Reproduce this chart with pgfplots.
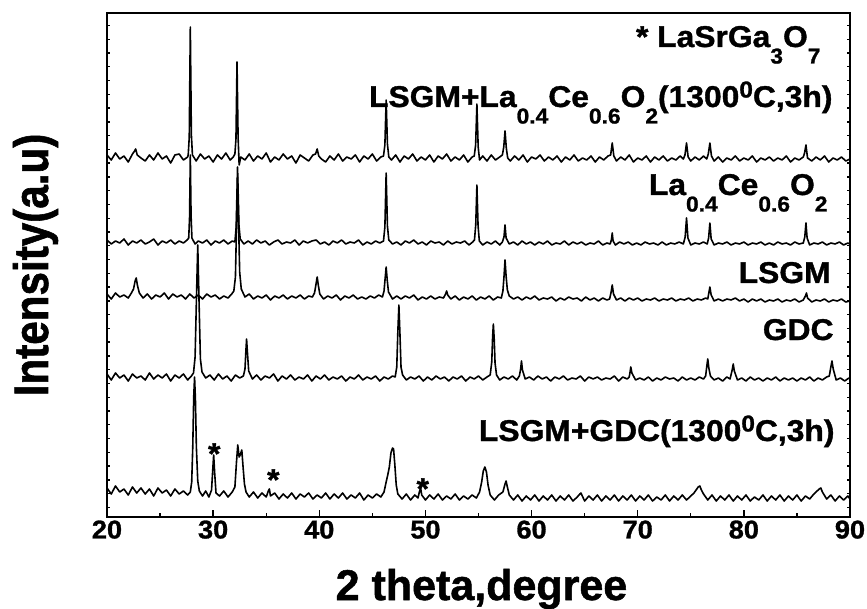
\documentclass[border=0pt]{standalone}
\usepackage{fontspec}
\setmainfont{Liberation Sans}[BoldFeatures={FakeBold=1.2}]
\newfontfamily\lbl{Liberation Sans}[FakeStretch=1.06, BoldFeatures={FakeBold=1.2}]
\newfontfamily\ylb{Liberation Sans}[FakeStretch=0.87, BoldFeatures={FakeBold=1.2}]
\usepackage{pgfplots}
\pgfplotsset{compat=1.18}

% chemical subscripts and the degree superscript of the annotations
\newcommand\sbs[1]{\raisebox{-16.5pt}{\fontsize{21.5}{22}\selectfont #1}}
\newcommand\sps[1]{\raisebox{9.5pt}{\fontsize{23}{23}\selectfont #1}}
\newcommand\lblfont{\lbl\bfseries\fontsize{30}{36}\selectfont}
\pgfplotsset{xrd/.style={black, line width=1.6pt, line join=round, mark=none}}

\begin{document}
\begin{tikzpicture}[x=1pt,y=1pt]
\useasboundingbox (-107,-91) rectangle (760,517);
\begin{axis}[
  at={(0,0)}, anchor=south west,
  scale only axis, width=743pt, height=504pt,
  xmin=20, xmax=90, ymin=0, ymax=504,
  clip=false,
  axis line style={line width=1.6pt},
  xtick={20,30,...,90}, minor xtick={25,35,...,85},
  ytick=\empty,
  extra y ticks={9.6,23.37,...,500}, extra y tick labels={},
  extra y tick style={major tick length=3.5pt},
  xtick pos=bottom, ytick pos=both,
  tick align=inside,
  major tick length=7pt, minor tick length=4.5pt,
  every tick/.style={black, line width=1.4pt},
  /pgf/number format/assume math mode=true,
  xticklabel style={font=\lbl\bfseries\fontsize{25.6}{30}\selectfont},
  xlabel={2 theta,degree},
  xlabel style={font=\bfseries\fontsize{43}{50}\selectfont,
    at={([xshift=3pt,yshift=-83pt]axis description cs:0.5,0)}, anchor=base},
  ylabel={Intensity(a.u)},
  ylabel style={font=\ylb\bfseries\fontsize{48.5}{55}\selectfont,
    at={([xshift=-59pt]axis description cs:0,0.5)}, anchor=base},
]

% LSGM + La0.4Ce0.6O2, 1300 C, 3 h
\addplot[xrd] coordinates {
(20.0,362)(20.4,357)(20.8,364)(21.2,358)(21.6,361)(22.0,355)(22.4,363)(22.6,366)(22.7,368)(22.85,362)
(23.2,359)(23.6,356)(24.0,362)(24.4,357)(24.8,364)(25.2,358)(25.6,361)(26.0,354)(26.4,362)(26.8,363)
(27.2,357)(27.6,360)(27.65,362)(27.75,380)(27.85,490)(27.95,382)(28.05,362)(28.4,356)(28.8,363)(29.2,358)
(29.6,361)(30.0,355)(30.4,362)(30.8,358)(31.2,364)(31.6,357)(31.9,360)(32.05,363)(32.15,378)(32.25,455)
(32.35,380)(32.45,352)(32.6,360)(33.0,357)(33.4,363)(33.8,356)(34.2,361)(34.6,358)(35.0,364)(35.4,355)
(35.8,360)(36.2,357)(36.6,363)(37.0,358)(37.4,361)(37.8,354)(38.2,362)(38.6,359)(39.0,356)(39.4,362)
(39.65,363)(39.8,368)(39.95,361)(40.2,358)(40.6,355)(41.0,361)(41.4,357)(41.8,363)(42.2,356)(42.6,360)
(43.0,358)(43.4,362)(43.8,355)(44.2,361)(44.6,358)(45.0,363)(45.4,356)(45.8,360)(46.05,361)(46.18,372)
(46.3,417)(46.42,373)(46.55,360)(46.8,357)(47.2,362)(47.6,355)(48.0,361)(48.4,358)(48.8,363)(49.2,356)
(49.6,360)(50.0,357)(50.4,362)(50.8,355)(51.2,361)(51.6,358)(52.0,363)(52.4,356)(52.8,360)(53.2,357)
(53.6,362)(54.0,355)(54.4,360)(54.6,361)(54.73,372)(54.85,413)(54.97,370)(55.1,357)(55.4,361)(55.8,356)
(56.2,362)(56.6,357)(57.0,360)(57.25,362)(57.38,370)(57.5,386)(57.62,369)(57.75,359)(58.0,356)(58.4,361)
(58.8,357)(59.2,362)(59.6,355)(60.0,360)(60.4,358)(60.8,362)(61.2,356)(61.6,360)(62.0,357)(62.4,361)
(62.8,355)(63.2,360)(63.6,357)(64.0,362)(64.4,356)(64.8,359)(65.2,357)(65.6,361)(66.0,355)(66.4,360)
(66.8,357)(67.2,361)(67.45,362)(67.6,374)(67.75,361)(68.0,356)(68.4,360)(68.8,357)(69.2,362)(69.6,355)
(70.0,359)(70.4,357)(70.8,361)(71.2,355)(71.6,360)(72.0,357)(72.4,361)(72.8,356)(73.2,359)(73.6,357)
(74.0,361)(74.3,358)(74.45,362)(74.6,374)(74.75,360)(75.0,356)(75.4,360)(75.8,357)(76.2,361)(76.5,358)
(76.65,363)(76.8,374)(76.95,361)(77.2,356)(77.6,360)(78.0,355)(78.4,359)(78.8,357)(79.2,361)(79.6,356)
(80.0,359)(80.4,357)(80.8,361)(81.2,355)(81.6,359)(82.0,357)(82.4,360)(82.8,356)(83.2,359)(83.6,357)
(84.0,361)(84.4,355)(84.8,359)(85.2,357)(85.6,360)(85.72,364)(85.85,372)(86.0,359)(86.4,356)(86.8,360)
(87.2,357)(87.6,361)(88.0,355)(88.4,359)(88.8,357)(89.2,360)(89.6,356)(90.0,358)
};

% La0.4Ce0.6O2
\addplot[xrd] coordinates {
(20.0,277)(20.4,273)(20.8,276)(21.2,274)(21.6,278)(22.0,272)(22.4,276)(22.8,274)(23.2,277)(23.6,273)
(24.0,275)(24.4,278)(24.8,272)(25.2,276)(25.6,274)(26.0,277)(26.4,273)(26.8,276)(27.2,274)(27.55,277)
(27.7,279)(27.78,300)(27.85,362)(27.92,302)(28.0,279)(28.3,273)(28.6,276)(29.0,274)(29.4,277)(29.8,272)
(30.2,276)(30.6,274)(31.0,277)(31.4,273)(31.8,276)(32.05,275)(32.17,290)(32.3,350)(32.43,292)(32.55,278)
(32.9,273)(33.3,276)(33.7,273)(34.1,277)(34.5,274)(34.9,276)(35.3,272)(35.7,275)(36.1,277)(36.5,273)
(36.9,275)(37.3,274)(37.7,277)(38.1,272)(38.5,276)(38.9,274)(39.3,276)(39.7,277)(40.1,273)(40.5,275)
(40.9,272)(41.3,276)(41.7,274)(42.1,277)(42.5,273)(42.9,275)(43.3,274)(43.7,277)(44.1,272)(44.5,275)
(44.9,273)(45.3,276)(45.7,274)(46.05,276)(46.18,290)(46.3,344)(46.42,291)(46.55,277)(46.9,273)(47.3,275)
(47.7,272)(48.1,276)(48.5,274)(48.9,277)(49.3,273)(49.7,275)(50.1,272)(50.5,276)(50.9,274)(51.3,275)
(51.7,272)(52.1,276)(52.5,273)(52.9,275)(53.3,274)(53.7,276)(54.1,272)(54.45,275)(54.62,277)(54.74,292)
(54.85,332)(54.96,291)(55.08,276)(55.4,272)(55.8,275)(56.2,273)(56.6,276)(57.0,272)(57.25,275)(57.4,280)
(57.5,292)(57.6,279)(57.9,273)(58.3,275)(58.7,272)(59.1,276)(59.5,273)(59.9,275)(60.3,272)(60.7,275)
(61.1,273)(61.5,276)(61.9,272)(62.3,274)(62.7,273)(63.1,276)(63.5,272)(63.9,275)(64.3,273)(64.7,275)
(65.1,272)(65.5,274)(65.9,273)(66.3,276)(66.7,272)(67.1,274)(67.4,273)(67.52,277)(67.6,284)(67.68,276)
(67.9,272)(68.3,275)(68.7,273)(69.1,275)(69.5,272)(69.9,274)(70.3,272)(70.7,275)(71.1,273)(71.5,274)
(71.9,272)(72.3,275)(72.7,272)(73.1,274)(73.5,273)(73.9,275)(74.3,273)(74.47,280)(74.6,299)(74.73,279)
(75.0,272)(75.4,274)(75.8,273)(76.2,275)(76.55,273)(76.68,279)(76.8,294)(76.92,278)(77.2,272)(77.6,274)
(78.0,273)(78.4,275)(78.8,272)(79.2,274)(79.6,273)(80.0,275)(80.4,272)(80.8,274)(81.2,273)(81.6,275)
(82.0,272)(82.4,274)(82.8,272)(83.2,275)(83.6,273)(84.0,274)(84.4,272)(84.8,275)(85.2,273)(85.6,274)
(85.74,280)(85.85,294)(85.96,279)(86.2,272)(86.6,274)(87.0,273)(87.4,275)(87.8,272)(88.2,274)(88.6,273)
(89.0,275)(89.4,272)(89.8,274)(90.0,273)
};

% LSGM
\addplot[xrd] coordinates {
(20.0,223)(20.4,218)(20.8,224)(21.2,220)(21.6,222)(22.0,219)(22.3,224)(22.5,228)(22.65,236)(22.75,239)
(22.88,231)(23.05,224)(23.4,219)(23.8,223)(24.2,218)(24.6,222)(25.0,220)(25.4,224)(25.8,218)(26.2,223)
(26.6,220)(27.0,222)(27.4,218)(27.8,223)(28.2,219)(28.6,222)(29.0,218)(29.4,223)(29.8,220)(30.2,222)
(30.6,218)(31.0,221)(31.4,219)(31.75,223)(31.95,226)(32.1,240)(32.2,290)(32.3,340)(32.4,292)(32.5,245)
(32.65,228)(33.0,220)(33.4,223)(33.8,218)(34.2,221)(34.6,219)(35.0,222)(35.4,217)(35.8,221)(36.2,219)
(36.6,222)(37.0,218)(37.4,221)(37.8,219)(38.2,222)(38.6,218)(39.0,221)(39.35,220)(39.55,224)(39.68,232)
(39.8,240)(39.92,231)(40.05,223)(40.4,218)(40.8,221)(41.2,219)(41.6,222)(42.0,217)(42.4,221)(42.8,219)
(43.2,222)(43.6,218)(44.0,220)(44.4,218)(44.8,221)(45.2,219)(45.6,222)(45.95,220)(46.1,226)(46.2,238)
(46.3,250)(46.4,237)(46.52,225)(46.9,218)(47.3,221)(47.7,218)(48.1,221)(48.5,219)(48.9,222)(49.3,217)
(49.7,220)(50.1,218)(50.5,221)(50.9,218)(51.3,220)(51.7,219)(51.9,223)(52.0,226)(52.1,222)(52.4,218)
(52.8,221)(53.2,217)(53.6,220)(54.0,218)(54.4,221)(54.8,217)(55.2,220)(55.6,218)(56.0,221)(56.4,217)
(56.8,220)(57.15,219)(57.3,226)(57.4,240)(57.5,257)(57.6,241)(57.72,227)(57.9,221)(58.3,218)(58.7,220)
(59.1,217)(59.5,220)(59.9,218)(60.3,221)(60.7,217)(61.1,219)(61.5,218)(61.9,220)(62.3,216)(62.7,219)
(63.1,217)(63.5,220)(63.9,218)(64.3,219)(64.7,216)(65.1,220)(65.5,217)(65.9,219)(66.3,216)(66.7,219)
(67.1,217)(67.35,218)(67.48,224)(67.6,232)(67.72,223)(68.0,217)(68.4,219)(68.8,216)(69.2,219)(69.6,217)
(70.0,219)(70.4,216)(70.8,218)(71.2,217)(71.6,219)(72.0,216)(72.4,218)(72.8,217)(73.2,219)(73.6,216)
(74.0,218)(74.4,217)(74.8,219)(75.2,216)(75.6,218)(76.0,217)(76.4,219)(76.6,218)(76.7,224)(76.8,230)
(76.92,222)(77.2,216)(77.6,218)(78.0,216)(78.4,218)(78.8,217)(79.2,219)(79.6,216)(80.0,218)(80.4,215)
(80.8,218)(81.2,216)(81.6,218)(82.0,215)(82.4,217)(82.8,216)(83.2,218)(83.6,215)(84.0,217)(84.4,216)
(84.8,218)(85.2,215)(85.6,217)(85.8,221)(85.9,224)(86.0,219)(86.4,215)(86.8,217)(87.2,216)(87.6,218)
(88.0,215)(88.4,217)(88.8,216)(89.2,218)(89.6,215)(90.0,216)
};

% GDC
\addplot[xrd] coordinates {
(20.0,143)(20.4,137)(20.8,144)(21.2,139)(21.6,142)(22.0,136)(22.4,143)(22.8,139)(23.2,141)(23.6,137)
(24.0,144)(24.4,138)(24.8,142)(25.2,139)(25.6,143)(26.0,136)(26.4,142)(26.8,139)(27.2,143)(27.6,137)
(27.95,141)(28.15,144)(28.3,160)(28.42,215)(28.55,272)(28.68,212)(28.8,158)(28.95,145)(29.3,139)(29.7,142)
(30.1,137)(30.5,143)(30.9,138)(31.3,141)(31.7,136)(32.1,142)(32.5,139)(32.85,141)(33.0,148)(33.08,165)
(33.15,178)(33.24,163)(33.35,146)(33.7,138)(34.1,142)(34.5,137)(34.9,141)(35.3,139)(35.7,143)(36.1,136)
(36.5,141)(36.9,138)(37.3,142)(37.7,137)(38.1,140)(38.5,138)(38.9,142)(39.3,136)(39.7,141)(40.1,138)
(40.5,142)(40.9,137)(41.3,140)(41.7,138)(42.1,141)(42.5,136)(42.9,140)(43.3,138)(43.7,142)(44.1,137)
(44.5,140)(44.9,138)(45.3,141)(45.7,136)(46.1,140)(46.5,138)(46.9,141)(47.15,140)(47.3,150)(47.4,185)
(47.5,212)(47.6,183)(47.7,150)(47.85,142)(48.2,137)(48.6,140)(49.0,138)(49.4,141)(49.8,136)(50.2,140)
(50.6,137)(51.0,141)(51.4,138)(51.8,140)(52.2,136)(52.6,140)(53.0,138)(53.4,141)(53.8,136)(54.2,140)
(54.6,138)(55.0,141)(55.4,137)(55.8,140)(56.1,142)(56.25,155)(56.33,180)(56.4,193)(56.48,178)(56.56,154)
(56.7,142)(57.0,137)(57.4,140)(57.8,138)(58.2,141)(58.6,137)(58.85,141)(58.97,148)(59.05,156)(59.14,147)
(59.4,138)(59.8,140)(60.2,137)(60.6,141)(61.0,138)(61.4,140)(61.8,136)(62.2,140)(62.6,138)(63.0,141)
(63.4,137)(63.8,139)(64.2,138)(64.6,141)(65.0,136)(65.4,140)(65.8,138)(66.2,140)(66.6,137)(67.0,139)
(67.4,138)(67.8,141)(68.2,136)(68.6,140)(69.0,138)(69.2,140)(69.28,145)(69.35,150)(69.45,144)(69.8,137)
(70.2,139)(70.6,137)(71.0,140)(71.4,136)(71.8,139)(72.2,137)(72.6,140)(73.0,138)(73.4,139)(73.8,136)
(74.2,140)(74.6,137)(75.0,139)(75.4,137)(75.8,140)(76.2,138)(76.4,141)(76.5,150)(76.6,158)(76.7,149)
(76.85,141)(77.2,137)(77.6,139)(78.0,136)(78.4,140)(78.7,138)(78.9,147)(79.0,153)(79.1,146)(79.4,137)
(79.8,139)(80.2,136)(80.6,140)(81.0,137)(81.4,139)(81.8,136)(82.2,139)(82.6,137)(83.0,140)(83.4,136)
(83.8,139)(84.2,137)(84.6,139)(85.0,136)(85.4,139)(85.8,137)(86.2,140)(86.6,136)(87.0,139)(87.4,137)
(87.8,140)(88.05,141)(88.18,149)(88.3,156)(88.42,148)(88.7,137)(89.1,139)(89.5,136)(89.9,139)(90.0,138)
};

% LSGM + GDC, 1300 C, 3 h
\addplot[xrd] coordinates {
(20.0,29)(20.4,23)(20.8,31)(21.2,25)(21.6,28)(22.0,22)(22.4,30)(22.8,24)(23.2,29)(23.6,23)
(24.0,28)(24.4,21)(24.8,29)(25.2,24)(25.6,27)(26.0,21)(26.4,28)(26.8,23)(27.2,26)(27.6,22)
(27.85,25)(27.98,35)(28.08,70)(28.17,120)(28.25,140)(28.33,118)(28.42,70)(28.55,36)(28.7,26)(29.0,21)
(29.3,26)(29.6,20)(29.85,27)(29.95,45)(30.05,62)(30.15,43)(30.27,24)(30.6,21)(31.0,26)(31.4,20)
(31.8,25)(32.05,30)(32.2,55)(32.32,72)(32.45,60)(32.55,62)(32.7,67)(32.82,50)(32.95,33)(33.1,25)
(33.4,20)(33.8,25)(34.2,19)(34.6,24)(35.0,20)(35.2,26)(35.3,28)(35.4,21)(35.8,24)(36.2,18)
(36.6,23)(37.0,19)(37.4,24)(37.8,18)(38.2,23)(38.6,20)(39.0,24)(39.4,18)(39.8,22)(40.2,19)
(40.6,24)(41.0,18)(41.4,23)(41.8,19)(42.2,24)(42.6,18)(43.0,22)(43.4,19)(43.8,24)(44.2,17)
(44.6,22)(45.0,19)(45.4,23)(45.8,20)(46.1,25)(46.3,35)(46.45,42)(46.6,50)(46.75,64)(46.9,69)
(47.0,68)(47.12,52)(47.25,32)(47.4,23)(47.8,18)(48.2,23)(48.6,17)(49.0,22)(49.3,19)(49.45,26)
(49.55,29)(49.65,22)(50.0,17)(50.4,22)(50.8,18)(51.2,23)(51.6,17)(52.0,21)(52.4,18)(52.8,23)
(53.2,17)(53.6,21)(54.0,18)(54.4,22)(54.8,19)(55.1,25)(55.3,35)(55.45,46)(55.6,50)(55.75,45)
(55.9,32)(56.1,22)(56.5,17)(56.9,22)(57.3,25)(57.5,33)(57.6,36)(57.72,30)(57.9,22)(58.3,17)
(58.7,22)(59.1,16)(59.5,21)(59.9,17)(60.3,22)(60.7,16)(61.1,21)(61.5,17)(61.9,22)(62.3,16)
(62.7,21)(63.1,17)(63.5,22)(63.9,16)(64.3,20)(64.55,23)(64.65,24)(65.0,16)(65.4,21)(65.8,17)
(66.2,22)(66.6,16)(67.0,21)(67.4,17)(67.8,22)(68.2,16)(68.6,21)(69.0,17)(69.4,22)(69.8,16)
(70.2,21)(70.6,17)(71.0,22)(71.4,16)(71.8,20)(72.2,17)(72.6,22)(73.0,16)(73.4,21)(73.8,17)
(74.2,22)(74.6,17)(75.0,21)(75.3,24)(75.5,27)(75.7,30)(75.85,31)(76.0,27)(76.2,23)(76.6,17)
(77.0,22)(77.4,16)(77.8,21)(78.2,17)(78.6,22)(79.0,16)(79.4,21)(79.8,17)(80.2,22)(80.6,16)
(81.0,20)(81.4,17)(81.8,22)(82.2,16)(82.6,21)(83.0,17)(83.4,22)(83.8,16)(84.2,21)(84.6,17)
(85.0,22)(85.4,16)(85.8,21)(86.2,18)(86.6,23)(86.9,26)(87.1,28)(87.25,29)(87.4,25)(87.8,18)
(88.2,22)(88.6,16)(89.0,21)(89.4,17)(89.8,21)(90.0,18)
};

% phase and sample annotations
\node[anchor=base east, font=\lblfont] at (axis cs:87.55,470) {* LaSrGa\sbs{3}O\sbs{7}};
\node[anchor=base east, font=\lblfont] at (axis cs:88.68,410) {LSGM+La\sbs{0.4}Ce\sbs{0.6}O\sbs{2}(1300\sps{0}C,3h)};
\node[anchor=base east, font=\lblfont] at (axis cs:88.21,322) {La\sbs{0.4}Ce\sbs{0.6}O\sbs{2}};
\node[anchor=base east, font=\lblfont] at (axis cs:88.5,234) {LSGM};
\node[anchor=base east, font=\lblfont] at (axis cs:88.78,177) {GDC};
\node[anchor=base east, font=\lblfont] at (axis cs:88.87,76) {LSGM+GDC(1300\sps{0}C,3h)};
% LaSrGa3O7 reflections
\node[anchor=base, font=\lblfont] at (axis cs:30.1,53) {*};
\node[anchor=base, font=\lblfont] at (axis cs:35.67,27) {*};
\node[anchor=base, font=\lblfont] at (axis cs:49.75,18) {*};
\end{axis}
\end{tikzpicture}
\end{document}
